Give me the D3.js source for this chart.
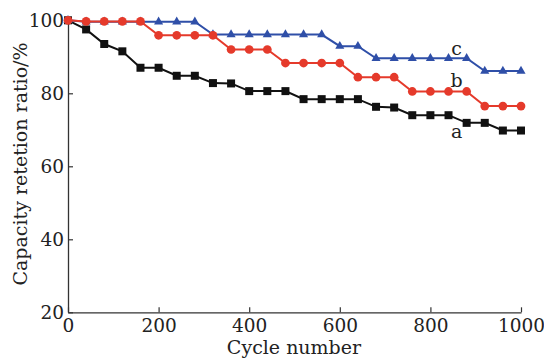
<!DOCTYPE html>
<html><head><meta charset="utf-8">
<script src="https://cdn.jsdelivr.net/npm/d3@7"></script>
<style>body{margin:0;background:#fff;}svg text{font-family:"DejaVu Serif","Liberation Serif",serif;}</style>
</head><body><svg id="c" width="544" height="358"></svg>
<script>
const cycles = [0,40,80,120,160,200,240,280,320,360,400,440,480,520,560,600,640,680,720,760,800,840,880,920,960,1000];
const seriesA = [100,97.5,93.5,91.5,87,87,84.8,84.8,82.8,82.7,80.6,80.6,80.6,78.4,78.4,78.4,78.4,76.3,76.1,74,74,74,71.9,71.9,69.8,69.8];
const seriesB = [100,99.7,99.7,99.7,99.7,95.9,95.9,95.9,95.9,92,92,92,88.3,88.3,88.3,88.3,84.4,84.4,84.4,80.5,80.5,80.5,80.5,76.5,76.5,76.5];
const seriesC = [100,99.6,99.6,99.6,99.6,99.6,99.6,99.6,96.1,96.1,96.1,96.1,96.1,96.1,96.1,92.9,92.9,89.6,89.6,89.6,89.6,89.6,89.6,86.1,86.1,86.1];
const xTicks = [0,200,400,600,800,1000];
const yTicks = [20,40,60,80,100];
const labels = ["a","b","c"];
const labelX = [858,858,858];
const labelY = [69.6,83.5,92.3];

const svg = d3.select("#c");
const x = d3.scaleLinear().domain([0,1000]).range([68,521]);
const y = d3.scaleLinear().domain([20,100]).range([312.3,20.3]);
const fs = 19;

const gx = svg.append("g").attr("transform","translate(0,312.3)")
  .call(d3.axisBottom(x).tickValues(xTicks).tickFormat(d3.format("d")).tickSizeInner(-5).tickSizeOuter(0).tickPadding(10));
const gy = svg.append("g").attr("transform","translate(68,0)")
  .call(d3.axisLeft(y).tickValues(yTicks).tickFormat(d3.format("d")).tickSizeInner(-5).tickSizeOuter(0).tickPadding(4));
[gx,gy].forEach(g=>{
  g.select(".domain").attr("stroke","#333").attr("stroke-width",1.3);
  g.selectAll(".tick line").attr("stroke","#333").attr("stroke-width",1.2);
  g.selectAll(".tick text").attr("font-size",18.5).attr("fill","#222").attr("font-family","Liberation Serif");
});
gx.selectAll(".tick text").attr("dy","0.5em");

svg.append("text").attr("x",294).attr("y",354).attr("text-anchor","middle")
  .attr("font-size",fs).attr("fill","#222").text("Cycle number");
svg.append("text").attr("transform","translate(27,164) rotate(-90)").attr("text-anchor","middle")
  .attr("font-size",fs).attr("fill","#222").text("Capacity retetion ratio/%");

const series = [
  {vals: seriesA, color:"#111111", sym:d3.symbolSquare, size:64},
  {vals: seriesB, color:"#e53a2b", sym:d3.symbolCircle, size:60},
  {vals: seriesC, color:"#2f4fa8", sym:d3.symbolTriangle, size:36}
];
const line = d3.line().x(d=>x(d[0])).y(d=>y(d[1]));
[series[0], series[2], series[1]].forEach(s=>{
  const pts = cycles.map((c,i)=>[c,s.vals[i]]);
  svg.append("path").datum(pts).attr("d",line).attr("fill","none")
    .attr("stroke",s.color).attr("stroke-width",2);
  svg.append("g").selectAll("path").data(pts).join("path")
    .attr("transform",d=>`translate(${x(d[0])},${y(d[1])})`)
    .attr("d",d3.symbol().type(s.sym).size(s.size)).attr("fill",s.color);
});

svg.append("g").selectAll("text").data(labels).join("text")
  .attr("x",(d,i)=>x(labelX[i])).attr("y",(d,i)=>y(labelY[i]))
  .attr("dy","0.35em").attr("text-anchor","middle")
  .attr("font-size",fs).attr("fill","#222").text(d=>d);
</script></body></html>
